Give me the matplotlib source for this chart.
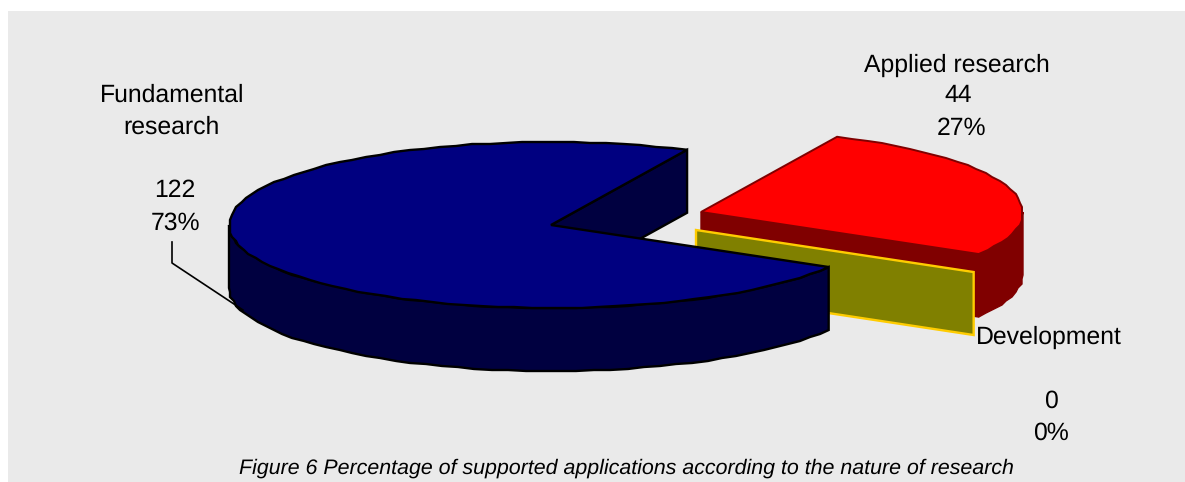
import numpy as np
import matplotlib
matplotlib.use("Agg")
import matplotlib.pyplot as plt
from matplotlib.patches import Polygon, Rectangle

plt.rcParams['font.family'] = ['Liberation Sans', 'DejaVu Sans']
plt.rcParams['text.hinting'] = 'none'
plt.rcParams['text.hinting_factor'] = 8

# pie data, in drawing order (clockwise from the start angle)
names = ["Applied research", "Development", "Fundamental research"]
counts = [44, 0, 122]
caption = "Figure 6 Percentage of supported applications according to the nature of research"

top_colors = ["#FF0000", "#808000", "#000080"]
side_colors = ["#800000", "#808000", "#000040"]
edge_colors = ["#800000", "#FFCC00", "#000000"]

W, H = 1185, 482
CX, CY = 551, 225      # centre of the main slice
RX, RY = 322, 83       # tilted radius
DEPTH = 63             # height of the pie
START = 65             # degrees, position of the first slice
SHIFT = [(150, -13), (145, 5), (0, 0)]   # exploded slice offsets
DOWN = np.array([0, DEPTH])


def arc(cx, cy, t0, t1):
    """ Points along the tilted rim between two angles, snapped to whole pixels for the rough edge. """
    n = max(2, int(abs(t1 - t0) / 3) + 1)
    t = np.radians(np.linspace(t0, t1, n))
    x = cx + RX * np.cos(t)
    y = cy - RY * np.sin(t)
    y[1:-1] = np.round(y[1:-1])
    x[1:-1] = np.round(x[1:-1] / 2) * 2
    return np.column_stack([x, y])


def rim_point(cx, cy, t):
    return np.array([cx + RX * np.cos(np.radians(t)), cy - RY * np.sin(np.radians(t))])


def draw_face(ax, cx, cy, t, fc, ec, lw):
    """ Flat cut face from the slice centre out to the rim. """
    centre = np.array([cx, cy])
    end = rim_point(cx, cy, t)
    ax.add_patch(Polygon([centre, end, end + DOWN, centre + DOWN], closed=True, fc=fc, ec=ec, lw=lw))


def draw_wall(ax, cx, cy, t0, t1, fc, ec, lw):
    """ Outer wall, which only shows on the lower half of the rim. """
    lo = max(t1, -180)
    hi = min(t0, 0)
    if hi > lo:
        rim = arc(cx, cy, hi, lo)
        ax.add_patch(Polygon(np.vstack([rim, (rim + DOWN)[::-1]]), closed=True, fc=fc, ec=ec, lw=lw))


def draw_top(ax, cx, cy, t0, t1, fc, ec, lw):
    ax.add_patch(Polygon(np.vstack([[[cx, cy]], arc(cx, cy, t0, t1)]), closed=True, fc=fc, ec=ec, lw=lw))


def main():
    fig = plt.figure(figsize=(W / 100, H / 100), dpi=100, facecolor='white')
    ax = fig.add_axes([0, 0, 1, 1])
    ax.set_xlim(0, W)
    ax.set_ylim(H, 0)
    ax.axis('off')
    ax.add_patch(Rectangle((8, 11), W - 8, H - 11, fc='#EAEAEA', ec='none'))

    total = sum(counts)
    sweeps = [360 * c / total for c in counts]
    starts = START - np.concatenate([[0], np.cumsum(sweeps)[:-1]])

    # Applied research
    t0, t1 = starts[0], starts[0] - sweeps[0]
    cx, cy = CX + SHIFT[0][0], CY + SHIFT[0][1]
    draw_face(ax, cx, cy, t1, side_colors[0], side_colors[0], 1)
    draw_wall(ax, cx, cy, t0, t1, side_colors[0], side_colors[0], 1)
    draw_top(ax, cx, cy, t0, t1, top_colors[0], edge_colors[0], 1.4)

    # Development has no area, so only its cut face shows
    cx, cy = CX + SHIFT[1][0], CY + SHIFT[1][1]
    draw_face(ax, cx, cy, starts[1], side_colors[1], edge_colors[1], 1.7)

    # leader line goes under the main slice
    ax.plot([172, 172, 243], [242, 263, 310], color='black', lw=1.2)

    # Fundamental research
    t0, t1 = starts[2], starts[2] - sweeps[2]
    draw_face(ax, CX, CY, t1, side_colors[2], edge_colors[2], 1.7)
    draw_wall(ax, CX, CY, t0, t1, side_colors[2], edge_colors[2], 1.7)
    draw_top(ax, CX, CY, t0, t1, top_colors[2], edge_colors[2], 1.7)

    # data labels: name, count, share
    pct = [f"{round(100 * c / total)}%" for c in counts]
    fs = 17.8
    label = dict(ha='center', va='center', fontsize=fs, color='black')
    ax.text(957, 65, names[0], **label)
    ax.text(958, 96, str(counts[0]), **label)
    ax.text(962, 128, pct[0], **label)

    ax.text(1049, 337, names[1], **label)
    ax.text(1051, 401, str(counts[1]), **label)
    ax.text(1051, 433, pct[1], **label)

    first, second = names[2].split(" ")
    ax.text(172, 95, first, **label)
    ax.text(172, 127, second, **label)
    ax.text(175, 191, str(counts[2]), **label)
    ax.text(175, 223, pct[2], **label)

    ax.text(626, 468, caption, ha='center', va='center', fontsize=15.36, style='italic')

    fig.savefig("out.png", dpi=100, facecolor='white')


if __name__ == "__main__":
    main()
